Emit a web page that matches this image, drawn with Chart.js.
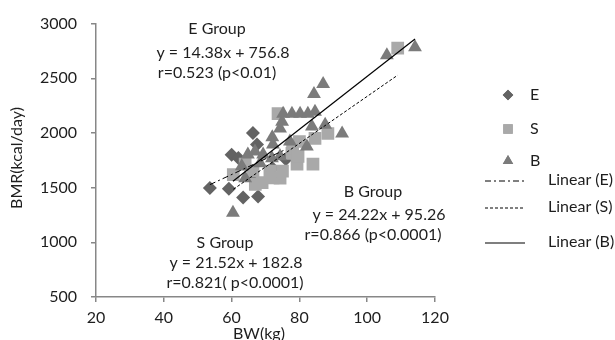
<!DOCTYPE html>
<html>
<head>
<meta charset="utf-8">
<script src="https://cdn.jsdelivr.net/npm/chart.js@4/dist/chart.umd.min.js"></script>
<style>
html,body{margin:0;padding:0;background:#fff;}
#wrap{width:615px;height:340px;}
</style>
</head>
<body>
<div id="wrap"><canvas id="c" width="615" height="340"></canvas></div>
<script>
// ---- data ----
const xTicks = [20, 40, 60, 80, 100, 120];
const yTicks = [500, 1000, 1500, 2000, 2500, 3000];

const E_bw  = [53.6, 59.2, 60.0, 62.0, 63.4, 66.0, 66.3, 67.5, 67.8, 72.0, 76.0];
const E_bmr = [1497, 1490, 1800, 1770, 1410, 1600, 2000, 1895, 1420, 1680, 1760];

const S_bw  = [60.5, 64.0, 66.3, 67.0, 69.0, 71.3, 72.2, 73.7, 74.3, 75.0, 77.8, 78.0, 79.3, 79.6, 80.0, 84.0, 84.6, 88.4, 109.0];
const S_bmr = [1620, 1714, 1650, 1530, 1545, 1650, 1590, 2176, 1587, 1650, 1813, 1860, 1714, 1786, 1922, 1714, 1950, 1995, 2775];

const B_bw  = [60.4, 63.0, 64.0, 64.8, 66.9, 68.4, 69.3, 71.9, 72.0, 72.2, 74.3, 74.3, 74.9, 75.2, 77.2, 77.8, 80.2, 82.2, 82.5, 83.7, 84.3, 84.6, 87.0, 87.6, 92.6, 105.8, 114.1];
const B_bmr = [1270, 1696, 1587, 1804, 1831, 1723, 1804, 1768, 1960, 1895, 1786, 2040, 2103, 2176, 1922, 2176, 2176, 1877, 2176, 2058, 2357, 2194, 2447, 2076, 1995, 2710, 2783];

const groups     = ['E', 'S', 'B'];
const slopes     = [14.38, 21.52, 24.22];
const intercepts = [756.8, 182.8, 95.26];
const equations  = ['y = 14.38x + 756.8', 'y = 21.52x + 182.8', 'y = 24.22x + 95.26'];
const rTexts     = ['r=0.523 (p<0.01)', 'r=0.821( p<0.0001)', 'r=0.866 (p<0.0001)'];

// ---- build datasets ----
const pts = (xs, ys) => xs.map((x, i) => ({x: x, y: ys[i]}));
const allX = [E_bw, S_bw, B_bw];
const trend = (g) => {
  const xs = allX[g];
  const lo = Math.min(...xs), hi = Math.max(...xs);
  return [lo, hi].map(x => ({x: x, y: slopes[g] * x + intercepts[g]}));
};

const colE = '#636363', colS = '#a9a9a9', colB = '#7b7b7b';
const FONT = 'Lato, "Open Sans", sans-serif';
const TXT = '#1e1e1e';

const datasets = [
  {label: 'E', data: pts(E_bw, E_bmr), pointStyle: 'rectRot', pointRadius: 7, backgroundColor: colE, borderColor: colE, borderWidth: 0, showLine: false, order: 4},
  {label: 'S', data: pts(S_bw, S_bmr), pointStyle: 'rect', pointRadius: 9, backgroundColor: colS, borderColor: colS, borderWidth: 0, showLine: false, order: 3},
  {label: 'B', data: pts(B_bw, B_bmr), pointStyle: 'triangle', pointRadius: 8, backgroundColor: colB, borderColor: colB, borderWidth: 0, showLine: false, order: 2},
  {label: 'Linear (E)', data: trend(0), showLine: true, pointRadius: 0, borderColor: '#000', borderWidth: 1, borderDash: [6, 3, 2, 3], order: 1},
  {label: 'Linear (S)', data: trend(1), showLine: true, pointRadius: 0, borderColor: '#000', borderWidth: 1, borderDash: [3, 2], order: 1},
  {label: 'Linear (B)', data: trend(2), showLine: true, pointRadius: 0, borderColor: '#000', borderWidth: 1.2, order: 1}
];

// ---- annotations + legend + axis titles ----
const extras = {
  id: 'extras',
  afterDraw(chart) {
    const ctx = chart.ctx;
    ctx.save();
    ctx.fillStyle = TXT;
    ctx.font = '16px ' + FONT;
    ctx.textAlign = 'center';
    ctx.textBaseline = 'middle';
    const blocks = [
      {g: 0, cx: [217, 223, 217], cy: [29, 53, 73]},
      {g: 1, cx: [225, 236, 235], cy: [243, 263, 283]},
      {g: 2, cx: [373, 379, 373], cy: [192, 215, 235]}
    ];
    blocks.forEach(b => {
      const lines = [groups[b.g] + ' Group', equations[b.g], rTexts[b.g]];
      lines.forEach((t, i) => ctx.fillText(t, b.cx[i], b.cy[i]));
    });

    // legend
    ctx.textAlign = 'left';
    const mk = [95, 129, 161];
    for (let i = 0; i < 3; i++) {
      const ds = chart.data.datasets[i];
      ctx.fillStyle = ds.backgroundColor;
      Chart.helpers.drawPoint(ctx, {pointStyle: ds.pointStyle, radius: ds.pointRadius * 0.75, rotation: 0, borderWidth: 0}, 508, mk[i]);
      ctx.fill();
      ctx.fillStyle = TXT;
      ctx.fillText(groups[i], 530, mk[i]);
    }
    const ly = [181, 208, 243];
    const ty = [180, 207, 242];
    for (let i = 0; i < 3; i++) {
      const ds = chart.data.datasets[3 + i];
      ctx.strokeStyle = '#000';
      ctx.lineWidth = ds.borderWidth;
      ctx.setLineDash(ds.borderDash || []);
      ctx.beginPath();
      ctx.moveTo(485, ly[i]);
      ctx.lineTo(525, ly[i]);
      ctx.stroke();
      ctx.setLineDash([]);
      ctx.fillStyle = TXT;
      ctx.fillText(ds.label, 548, ty[i]);
    }

    // axis titles
    ctx.fillStyle = TXT;
    ctx.textAlign = 'center';
    ctx.fillText('BW(kg)', 259, 334);
    ctx.translate(17, 158);
    ctx.rotate(-Math.PI / 2);
    ctx.fillText('BMR(kcal/day)', 0, 0);
    ctx.restore();
  }
};

new Chart(document.getElementById('c'), {
  type: 'scatter',
  data: {datasets: datasets},
  options: {
    responsive: false,
    animation: false,
    devicePixelRatio: 1,
    layout: {padding: {left: 0, right: 180, top: 21, bottom: 0}},
    plugins: {legend: {display: false}, tooltip: {enabled: false}},
    scales: {
      x: {
        type: 'linear', min: 20, max: 120,
        afterBuildTicks: (s) => { s.ticks = xTicks.map(v => ({value: v})); },
        afterFit: (s) => { s.height = 43; },
        border: {display: true, color: '#878787', width: 1.5},
        grid: {display: true, drawOnChartArea: false, drawTicks: true, tickLength: 5, color: '#878787', lineWidth: 1.5},
        ticks: {color: TXT, font: {family: FONT, size: 16}, padding: 6, maxRotation: 0, callback: (v) => String(v)}
      },
      y: {
        type: 'linear', min: 500, max: 3000,
        afterBuildTicks: (s) => { s.ticks = yTicks.map(v => ({value: v})); },
        afterFit: (s) => { s.width = 96; },
        border: {display: true, color: '#878787', width: 1.5},
        grid: {display: true, drawOnChartArea: false, drawTicks: true, tickLength: 5, color: '#878787', lineWidth: 1.5},
        ticks: {color: TXT, font: {family: FONT, size: 16}, padding: 14, callback: (v) => String(v)}
      }
    }
  },
  plugins: [extras]
});
</script>
</body>
</html>
